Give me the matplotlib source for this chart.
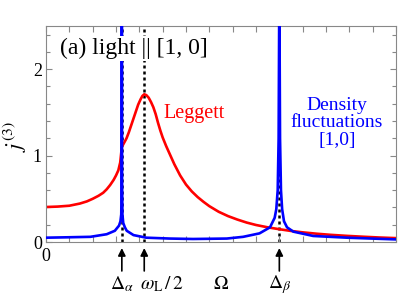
import numpy as np
import matplotlib
matplotlib.use('Agg')
import matplotlib.pyplot as plt

plt.rcParams['font.family'] = ['Liberation Serif', 'DejaVu Serif']
plt.rcParams['mathtext.fontset'] = 'stix'

# Leggett mode (red)
red_x = [0, 0.5, 1.0, 1.45, 1.75, 2.0, 2.25, 2.45, 2.6, 2.75, 2.9, 3.0, 3.1, 3.18, 3.25,
         3.35, 3.45, 3.55, 3.65, 3.75, 3.85, 3.95, 4.05, 4.13, 4.21, 4.3, 4.4, 4.5,
         4.6, 4.7, 4.8, 4.9, 5.0, 5.15, 5.3, 5.5, 5.75, 6.0, 6.25, 6.5, 6.75, 7.0,
         7.4, 7.8, 8.2, 8.6, 9.0, 9.5, 10.0, 10.5, 11.0, 11.6, 12.2, 12.9, 13.6,
         14.3, 15.0]
red_y = [0.405, 0.41, 0.42, 0.445, 0.47, 0.50, 0.535, 0.57, 0.61, 0.66, 0.72, 0.77,
         0.83, 0.92, 1.10, 1.15, 1.20, 1.27, 1.35, 1.43, 1.51, 1.59, 1.65, 1.69, 1.71,
         1.70, 1.67, 1.62, 1.56, 1.48, 1.38, 1.29, 1.21, 1.11, 1.02, 0.90, 0.77,
         0.665, 0.585, 0.52, 0.465, 0.415, 0.35, 0.30, 0.26, 0.225, 0.197, 0.17,
         0.148, 0.128, 0.112, 0.096, 0.083, 0.071, 0.061, 0.052, 0.045]

# density fluctuations [1,0] (blue)
blue_x = [0, 1.0, 1.9, 2.6, 2.95, 3.13, 3.19, 3.225, 3.24, 3.25, 3.26, 3.275, 3.31,
          3.38, 3.46, 3.75, 4.3, 5.3, 6.3, 7.75, 8.45, 9.15, 9.6, 9.8, 9.87, 9.93,
          9.97, 10.0, 10.03, 10.07, 10.12, 10.2, 10.33, 10.6, 11.45, 12.9, 15.0]
blue_y = [0.05, 0.055, 0.06, 0.09, 0.13, 0.19, 0.24, 0.32, 0.7, 3.0, 0.7, 0.32, 0.22,
          0.17, 0.13, 0.08, 0.05, 0.04, 0.035, 0.04, 0.06, 0.10, 0.17, 0.28, 0.38,
          0.6, 1.2, 3.0, 1.2, 0.6, 0.38, 0.24, 0.17, 0.12, 0.07, 0.05, 0.03]

# marked frequencies
marks = {'da': 3.25, 'wl': 4.21, 'db': 10.0}
omega_pos = 7.5

fig = plt.figure(figsize=(4.09, 2.96), dpi=100)
ax = fig.add_axes([0.1125, 0.1824, 0.8557, 0.7297])

dash = (0, (1.2, 1.2))
for key in ['da', 'wl', 'db']:
    ax.axvline(marks[key], color='k', lw=1.8, linestyle=dash, zorder=1)

ax.plot(red_x, red_y, color='red', lw=1.9, zorder=2)
ax.plot(blue_x, blue_y, color='blue', lw=1.9, zorder=3)

ax.set_xlim(0, 15)
ax.set_ylim(0, 2.5)
ax.set_xticks(np.arange(0, 16, 1))
ax.set_xticklabels(['0'] + [''] * 15)
ax.set_yticks([0, 1, 2])
ax.set_yticks(np.arange(0, 2.6, 0.2), minor=True)
ax.tick_params(which='both', direction='in', top=True, right=True,
               colors='#888888', labelcolor='k', labelsize=13, width=0.8)
ax.tick_params(which='major', length=4)
ax.tick_params(which='minor', length=3)
ax.tick_params(axis='x', pad=4)
ax.tick_params(axis='y', pad=3)
for s in ax.spines.values():
    s.set_color('#888888')
    s.set_linewidth(0.8)

ax.text(0.6, 2.24, '(a) light || [1, 0]', fontsize=17, ha='left', va='center',
        zorder=5, bbox=dict(facecolor='white', edgecolor='none', boxstyle='square,pad=0.1'))
ax.text(6.34, 1.49, 'Leggett', color='red', fontsize=14.5, ha='center', va='center')
ax.text(12.47, 1.38, 'Density\nfluctuations\n[1,0]', color='blue', fontsize=14,
        ha='center', va='center', linespacing=1.05)

fig.text(15 / 409, 1 - 137 / 296, r'$j^{(3)}$', rotation=90, fontsize=16,
         ha='center', va='center')

arrow = dict(arrowstyle='-|>', color='k', lw=1.2, mutation_scale=11, shrinkA=0, shrinkB=0)
for key in ['da', 'wl', 'db']:
    ax.annotate('', xy=(marks[key], -0.028), xycoords=('data', 'axes fraction'),
                xytext=(marks[key], -0.134), textcoords=('data', 'axes fraction'),
                arrowprops=arrow, annotation_clip=False)

lab_y = -0.195
xt = ax.get_xaxis_transform()
ax.text(marks['da'], lab_y, r'$\Delta_\alpha$', transform=xt,
        ha='center', va='center', fontsize=14)
ax.text(marks['wl'] - 0.2, lab_y, r'$\omega_{\rm L}\,/\,2$', transform=xt,
        ha='left', va='center', fontsize=14)
ax.text(marks['db'], lab_y, r'$\Delta_\beta$', transform=xt,
        ha='center', va='center', fontsize=14)
ax.text(omega_pos, lab_y, r'$\Omega$', transform=xt,
        ha='center', va='center', fontsize=14)

fig.savefig('out.png', dpi=100)
